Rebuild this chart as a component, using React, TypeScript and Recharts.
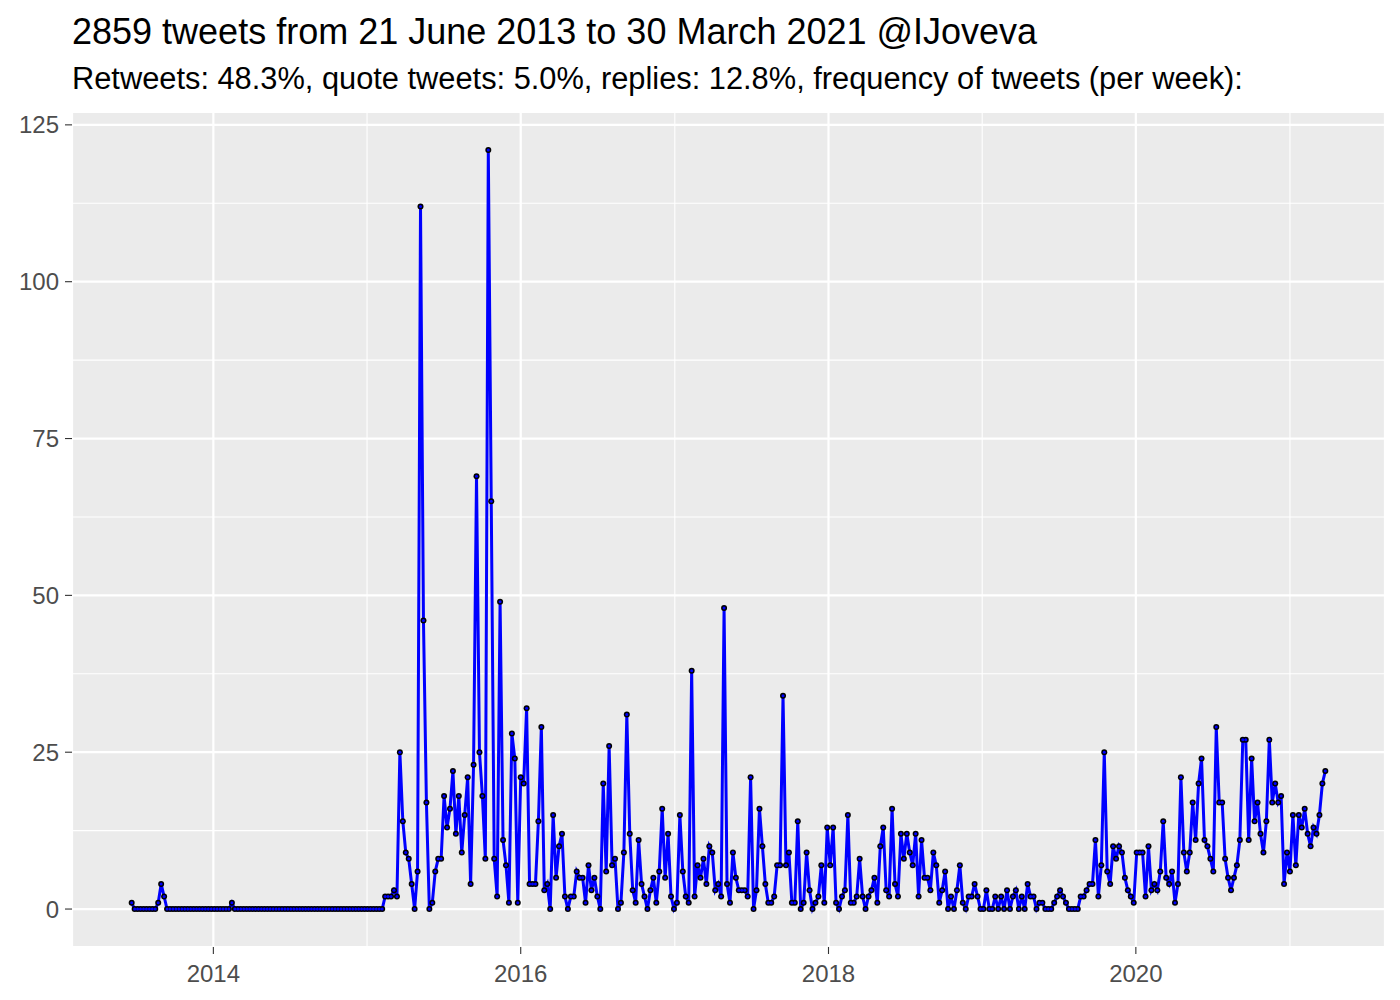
import React from "react";
import {
  LineChart,
  Line,
  XAxis,
  YAxis,
  CartesianGrid,
  ReferenceLine,
} from "recharts";

// weekly tweet counts, first week starting 21 June 2013
const startDay = Date.UTC(2013, 5, 21);
const weekMs = 7 * 24 * 3600 * 1000;

const tweetsPerWeek = [
  1, 0, 0, 0, 0, 0, 0, 0, 0, 1,
  4, 2, 0, 0, 0, 0, 0, 0, 0, 0,
  0, 0, 0, 0, 0, 0, 0, 0, 0, 0,
  0, 0, 0, 0, 1, 0, 0, 0, 0, 0,
  0, 0, 0, 0, 0, 0, 0, 0, 0, 0,
  0, 0, 0, 0, 0, 0, 0, 0, 0, 0,
  0, 0, 0, 0, 0, 0, 0, 0, 0, 0,
  0, 0, 0, 0, 0, 0, 0, 0, 0, 0,
  0, 0, 0, 0, 0, 0, 2, 2, 2, 3,
  2, 25, 14, 9, 8, 4, 0, 6, 112, 46,
  17, 0, 1, 6, 8, 8, 18, 13, 16, 22,
  12, 18, 9, 15, 21, 4, 23, 69, 25, 18,
  8, 121, 65, 8, 2, 49, 11, 7, 1, 28,
  24, 1, 21, 20, 32, 4, 4, 4, 14, 29,
  3, 4, 0, 15, 5, 10, 12, 2, 0, 2,
  2, 6, 5, 5, 1, 7, 3, 5, 2, 0,
  20, 6, 26, 7, 8, 0, 1, 9, 31, 12,
  3, 1, 11, 4, 2, 0, 3, 5, 1, 6,
  16, 5, 12, 2, 0, 1, 15, 6, 2, 1,
  38, 2, 7, 5, 8, 4, 10, 9, 3, 4,
  2, 48, 4, 1, 9, 5, 3, 3, 3, 2,
  21, 0, 3, 16, 10, 4, 1, 1, 2, 7,
  7, 34, 7, 9, 1, 1, 14, 0, 1, 9,
  3, 0, 1, 2, 7, 1, 13, 7, 13, 1,
  0, 2, 3, 15, 1, 1, 2, 8, 2, 0,
  2, 3, 5, 1, 10, 13, 3, 2, 16, 4,
  2, 12, 8, 12, 9, 7, 12, 2, 11, 5,
  5, 3, 9, 7, 1, 3, 6, 0, 2, 0,
  3, 7, 1, 0, 2, 2, 4, 2, 0, 0,
  3, 0, 0, 2, 0, 2, 0, 3, 0, 2,
  3, 0, 2, 0, 4, 2, 2, 0, 1, 1,
  0, 0, 0, 1, 2, 3, 2, 1, 0, 0,
  0, 0, 2, 2, 3, 4, 4, 11, 2, 7,
  25, 6, 4, 10, 8, 10, 9, 5, 3, 2,
  1, 9, 9, 9, 2, 10, 3, 4, 3, 6,
  14, 5, 4, 6, 1, 4, 21, 9, 6, 9,
  17, 11, 20, 24, 11, 10, 8, 6, 29, 17,
  17, 8, 5, 3, 5, 7, 11, 27, 27, 11,
  24, 14, 17, 12, 9, 14, 27, 17, 20, 17,
  18, 4, 9, 6, 15, 7, 15, 13, 16, 12,
  10, 13, 12, 15, 20, 22,
];

const majorYears = [2014, 2016, 2018, 2020];
const minorYears = [2015, 2017, 2019, 2021];
const countTicks = [0, 25, 50, 75, 100, 125];
const minorCounts = [12.5, 37.5, 62.5, 87.5, 112.5];

const title = "2859 tweets from 21 June 2013 to 30 March 2021 @IJoveva";
const subtitle =
  "Retweets: 48.3%, quote tweets: 5.0%, replies: 12.8%, frequency of tweets (per week):";

const yearStart = (y: number) => Date.UTC(y, 0, 1);

const data = tweetsPerWeek.map((n, i) => ({ t: startDay + i * weekMs, n }));

const tMin = data[0].t;
const tMax = data[data.length - 1].t;
const tPad = (tMax - tMin) * 0.05;
const nMax = Math.max(...tweetsPerWeek);

const font = "'Liberation Sans', Arial, Helvetica, sans-serif";
const tickStyle = { fill: "#4D4D4D", fontSize: 24, fontFamily: font };

const App: React.FC = () => {
  return (
    <div
      style={{
        position: "absolute",
        top: 0,
        left: 0,
        width: 1400,
        height: 1000,
        background: "#fff",
        fontFamily: font,
      }}
    >
      <div
        style={{
          position: "absolute",
          left: 72,
          top: 14,
          fontSize: 36,
          lineHeight: "36px",
          color: "#000",
          whiteSpace: "nowrap",
        }}
      >
        {title}
      </div>
      <div
        style={{
          position: "absolute",
          left: 72,
          top: 63,
          fontSize: 30.8,
          lineHeight: "31px",
          color: "#000",
          whiteSpace: "nowrap",
        }}
      >
        {subtitle}
      </div>
      <div style={{ position: "absolute", top: 0, left: 0 }}>
        <LineChart
          width={1400}
          height={1000}
          data={data}
          margin={{ top: 112, right: 15, bottom: 0, left: 0 }}
        >
          <CartesianGrid fill="#EBEBEB" stroke="#FFFFFF" strokeWidth={2.2} />
          {minorCounts.map((v) => (
            <ReferenceLine key={"h" + v} y={v} stroke="#FFFFFF" strokeWidth={1.1} />
          ))}
          {minorYears.map((y) => (
            <ReferenceLine
              key={"v" + y}
              x={yearStart(y)}
              stroke="#FFFFFF"
              strokeWidth={1.1}
              ifOverflow="hidden"
            />
          ))}
          <XAxis
            dataKey="t"
            type="number"
            domain={[tMin - tPad, tMax + tPad]}
            ticks={majorYears.map(yearStart)}
            tickFormatter={(v) => String(new Date(v).getUTCFullYear())}
            axisLine={false}
            tickLine={{ stroke: "#333333", strokeWidth: 1.1 }}
            tickSize={7}
            tickMargin={11}
            height={53}
            tick={tickStyle}
            allowDataOverflow
          />
          <YAxis
            type="number"
            domain={[-nMax * 0.05, nMax * 1.05]}
            ticks={countTicks}
            axisLine={false}
            tickLine={{ stroke: "#333333", strokeWidth: 1.1 }}
            tickSize={7}
            tickMargin={6}
            width={72}
            tick={tickStyle}
            allowDataOverflow
          />
          <Line
            dataKey="n"
            stroke="none"
            dot={{ r: 3, fill: "#000000", stroke: "none" }}
            activeDot={false}
            isAnimationActive={false}
          />
          <Line
            dataKey="n"
            stroke="#0000FF"
            strokeWidth={3}
            dot={{ r: 1.5, fill: "#0000FF", stroke: "none" }}
            activeDot={false}
            isAnimationActive={false}
          />
        </LineChart>
      </div>
    </div>
  );
};

export default App;
